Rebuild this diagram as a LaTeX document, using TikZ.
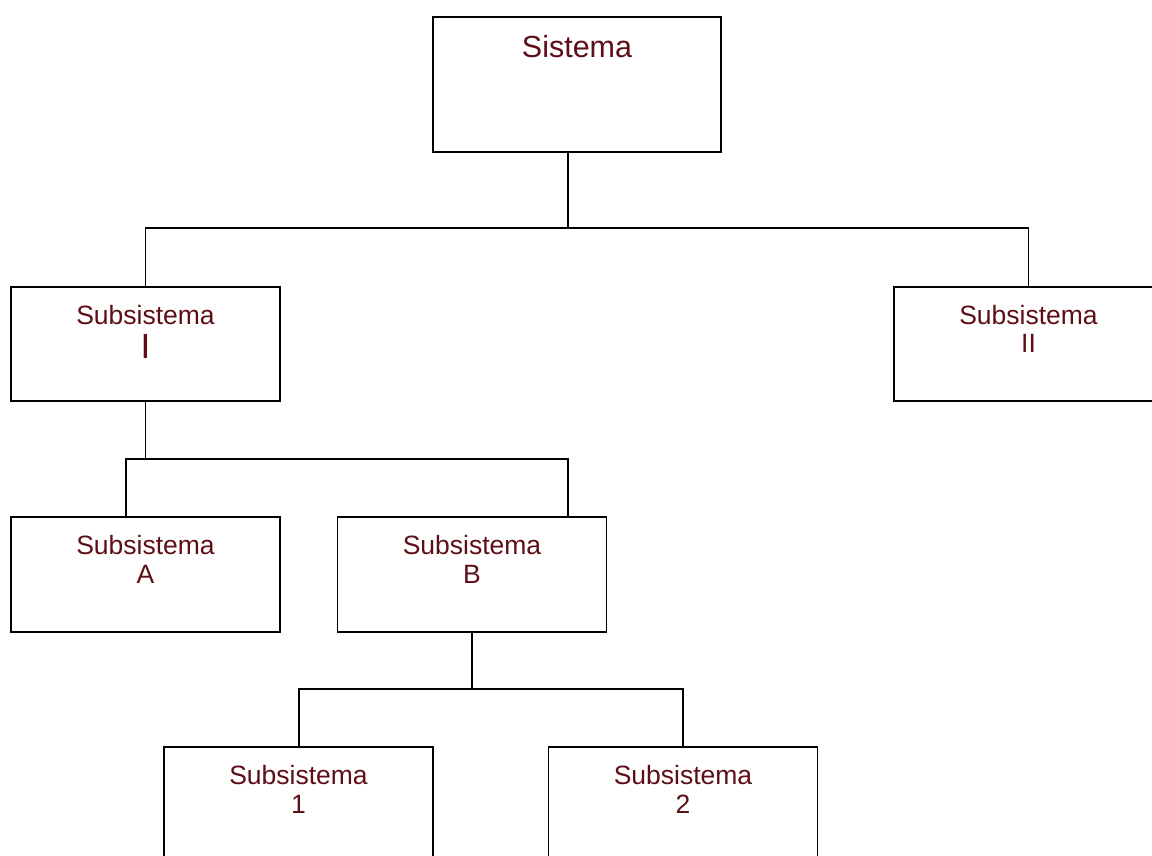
\documentclass[tikz,border=0pt]{standalone}
\usepackage{fontspec}
\setmainfont{Liberation Sans}
\definecolor{txt}{RGB}{94,14,22}
\begin{document}
\begin{tikzpicture}[x=1pt,y=-1pt,
  box/.style={draw=black,line width=1.6pt,fill=white,minimum width=269pt,minimum height=115pt,inner sep=0pt,outer sep=0pt},
  lbl/.style={text=txt,anchor=base,inner sep=0pt,font=\fontsize{26.5}{30}\selectfont},
  big/.style={text=txt,anchor=base,inner sep=0pt,font=\fontsize{30.5}{34}\selectfont},
  huge/.style={text=txt,anchor=base,inner sep=0pt,font=\fontsize{35}{38}\selectfont},
  conn/.style={draw=black,line width=1.6pt}]
\useasboundingbox (0,0) rectangle (1152,856);
\fill[white] (0,0) rectangle (1152,856);
% boxes
\node[box,minimum width=288pt,minimum height=135pt] (sis) at (577,84.5) {};
\node[box,minimum height=114pt] (s1) at (145.5,344) {};
\node[box,minimum height=114pt] (s2) at (1028.5,344) {};
\node[box] (sA) at (145.5,574.5) {};
\node[box] (sB) at (472,574.5) {};
\node[box] (n1) at (298.5,804.5) {};
\node[box] (n2) at (683,804.5) {};
% junctions
\coordinate (j1) at (568,228);
\coordinate (j2) at (145.5,459);
\coordinate (j3) at (472,689);
% connectors
\draw[conn] (j1 |- sis.south) -- (j1);
\draw[conn] (s1.north) |- (j1) -| (s2.north);
\draw[conn] (s1.south) -- (j2);
\draw[conn] ([xshift=-19.5pt]sA.north) |- (j2 -| j1) -- (sB.north -| j1);
\draw[conn] (sB.south) -- (j3);
\draw[conn] ([xshift=0.5pt]n1.north) |- (j3) -| (n2.north);
% texts
\node[big] (tsis) at (577,58) {Sistema};
\node[lbl] (t1a) at (145.5,324) {Subsistema};
\node[huge] (t1b) at (145.5,358) {I};
\node[lbl] (t2a) at (1028.5,324) {Subsistema};
\node[lbl] (t2b) at (1028.5,352) {II};
\node[lbl] (tAa) at (145.5,554) {Subsistema};
\node[lbl] (tAb) at (145.5,583) {A};
\node[lbl] (tBa) at (472,554) {Subsistema};
\node[lbl] (tBb) at (472,583) {B};
\node[lbl] (tNa) at (298.5,784) {Subsistema};
\node[lbl] (tNb) at (298.5,813) {1};
\node[lbl] (tMa) at (683,784) {Subsistema};
\node[lbl] (tMb) at (683,813) {2};
\end{tikzpicture}
\end{document}
